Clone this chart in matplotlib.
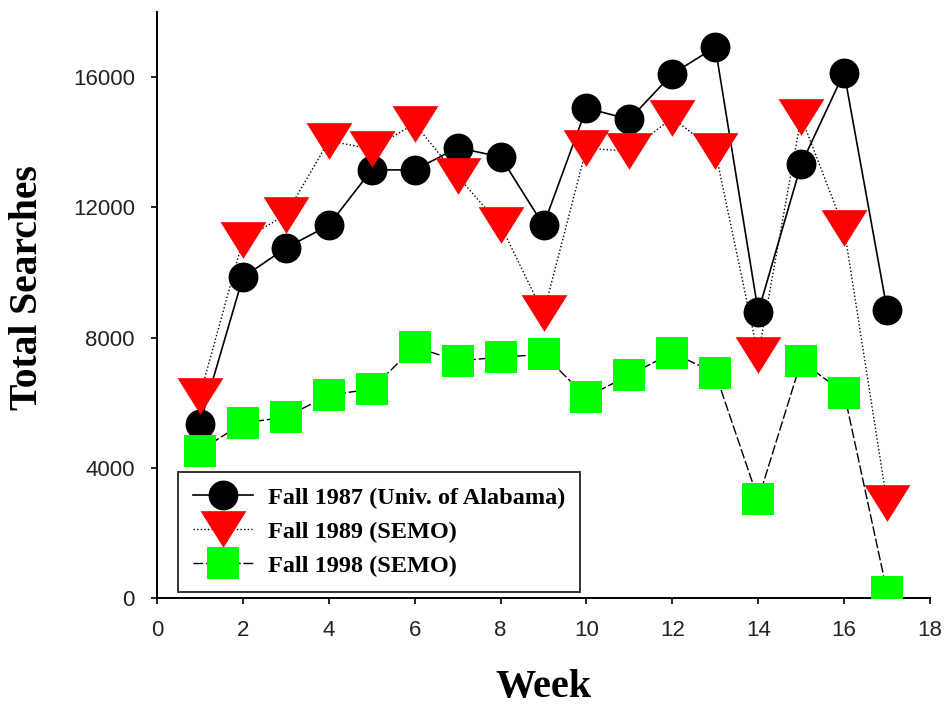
import matplotlib
matplotlib.use("Agg")
import matplotlib.pyplot as plt

weeks = list(range(1, 18))
fall1987 = [5350, 9850, 10750, 11450, 13150, 13150, 13830, 13550, 11450,
            15050, 14700, 16100, 16920, 8790, 13320, 16140, 8860]
fall1989 = [6220, 11000, 11770, 14040, 13790, 14570, 12950, 11450, 8740,
            13820, 13720, 14750, 13720, 7460, 14770, 11350, 2930]
fall1998 = [4530, 5370, 5560, 6230, 6420, 7720, 7280, 7400, 7480,
            6170, 6850, 7530, 6910, 3030, 7270, 6300, 190]
labels = ["Fall 1987 (Univ. of Alabama)", "Fall 1989 (SEMO)", "Fall 1998 (SEMO)"]

fig = plt.figure(figsize=(9.48, 7.06), dpi=100)
ax = fig.add_axes([157/948, 1-598/706, (930-157)/948, (598-12)/706])

tri = [(-0.5, 0.4), (0.5, 0.4), (0.0, -0.4)]

ax.plot(weeks, fall1987, color='black', lw=1.2, ls='-', marker='o',
        ms=21.5, mfc='black', mec='black', mew=0, label=labels[0], zorder=3)
ax.plot(weeks, fall1989, color='black', lw=1.0, ls=(0, (1, 1.6)), marker=tri,
        ms=33, mfc='#ff0000', mec='#ff0000', mew=0, label=labels[1], zorder=4)
ax.plot(weeks, fall1998, color='black', lw=1.0, ls=(0, (7, 2)), marker='s',
        ms=23, mfc='#00ff00', mec='#00ff00', mew=0, label=labels[2], zorder=5)

ax.set_xlim(0, 18)
ax.set_ylim(0, 18000)
ax.set_xticks(range(0, 19, 2))
ax.set_yticks(range(0, 16001, 4000))
for s in ['top', 'right']:
    ax.spines[s].set_visible(False)
for s in ['left', 'bottom']:
    ax.spines[s].set_linewidth(1.4)
ax.tick_params(direction='out', length=4, width=1.2, pad=12,
               labelsize=16, labelcolor='#222222')
for lab in ax.get_xticklabels() + ax.get_yticklabels():
    lab.set_family(['Liberation Sans Narrow', 'Liberation Sans'])

ax.set_xlabel('Week', family='Liberation Serif', fontweight='bold',
              fontsize=29, labelpad=20)
ax.set_ylabel('Total Searches', family='Liberation Serif', fontweight='bold',
              fontsize=28.5)
ax.yaxis.set_label_coords((46-157)/773, (598-288)/586)

leg = ax.legend(loc='upper left', bbox_to_anchor=(21/773, 1 - (472-12)/586),
                prop={'family': 'Liberation Serif', 'weight': 'bold', 'size': 17.5},
                frameon=True, fancybox=False, shadow=False, handlelength=2.5,
                handletextpad=0.6, labelspacing=0.5, borderpad=0.6,
                borderaxespad=0, markerscale=1.0)
leg.get_frame().set_edgecolor('black')
leg.get_frame().set_linewidth(1.4)

fig.savefig('out.png', dpi=100)
